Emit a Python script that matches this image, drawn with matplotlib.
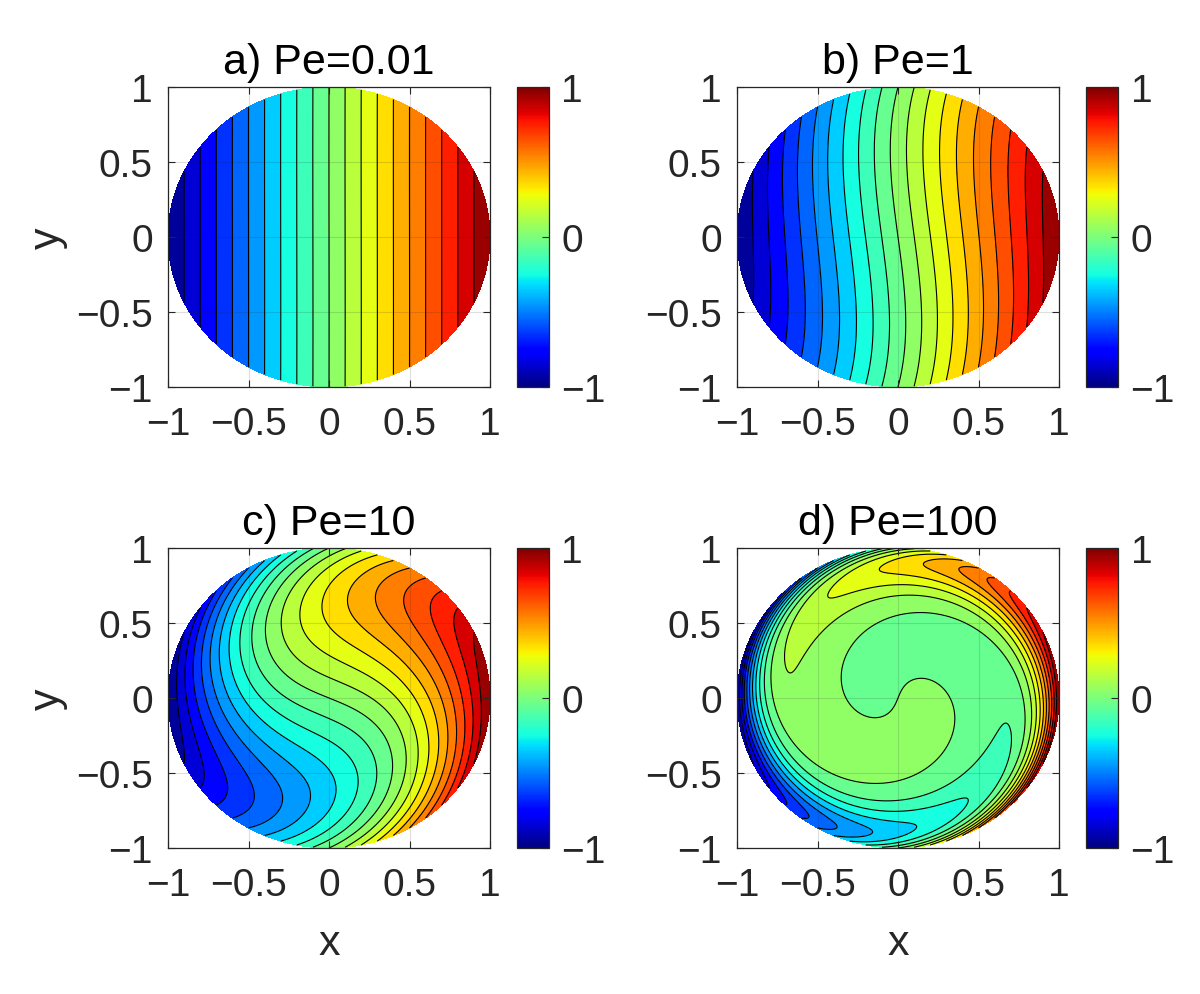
import numpy as np
import matplotlib
matplotlib.use("Agg")
from matplotlib import pyplot as plt
from matplotlib import cm, colors

plt.rcParams['font.family'] = ['Liberation Sans', 'DejaVu Sans']
plt.rcParams['axes.unicode_minus'] = True

# panels
pe_values = [0.01, 1, 10, 100]
titles = ["a) Pe=0.01", "b) Pe=1", "c) Pe=10", "d) Pe=100"]
fill_levels = [-1.0001, -0.9, -0.8, -0.7, -0.6, -0.5, -0.4, -0.3, -0.2, -0.1, 0.0,
               0.1, 0.2, 0.3, 0.4, 0.5, 0.6, 0.7, 0.8, 0.9, 1.0001]
line_levels = [-0.9, -0.8, -0.7, -0.6, -0.5, -0.4, -0.3, -0.2, -0.1, 0.0,
               0.1, 0.2, 0.3, 0.4, 0.5, 0.6, 0.7, 0.8, 0.9]
axis_ticks = [-1, -0.5, 0, 0.5, 1]
axis_ticklabels = ["\u22121", "\u22120.5", "0", "0.5", "1"]
cbar_ticks = [-1, 0, 1]
cbar_ticklabels = ["\u22121", "0", "1"]

# panel placement in pixels (left, top) of the 1200x995 canvas
W, H = 1200, 995
ax_w, ax_h = 322, 300
cb_off, cb_w = 349, 32
corners = [(168, 88), (737, 88), (168, 549), (737, 549)]


def bessel_i1(z, nterms=90):
    # power series of the modified Bessel function I1 for complex argument
    half = z / 2.0
    q = half * half
    term = half.copy()
    total = term.copy()
    for k in range(nterms):
        term = term * q / ((k + 1.0) * (k + 2.0))
        total = total + term
    return total


# steady advection-diffusion in a rotating disk, T = cos(theta) on the wall
r = np.linspace(0, 1, 220)
th = np.linspace(0, 2 * np.pi, 721)
R, TH = np.meshgrid(r, th, indexing="ij")
X = R * np.cos(TH)
Y = R * np.sin(TH)

fig = plt.figure(figsize=(W / 100, H / 100), dpi=100)
norm = colors.Normalize(vmin=-1, vmax=1)
edge = "#262626"

for i in range(4):
    left, top = corners[i]
    ax = fig.add_axes([left / W, (H - top - ax_h) / H, ax_w / W, ax_h / H])
    kk = np.sqrt(1j * pe_values[i])
    f = bessel_i1(kk * r) / bessel_i1(np.array([kk]))[0]
    T = np.real(f[:, None] * np.exp(1j * TH))

    ax.contourf(X, Y, T, levels=fill_levels, cmap="jet", norm=norm)
    ax.contour(X, Y, T, levels=line_levels, colors="k", linewidths=0.8,
               linestyles="solid")

    ax.set_xlim(-1, 1)
    ax.set_ylim(-1, 1)
    ax.set_xticks(axis_ticks)
    ax.set_xticklabels(axis_ticklabels)
    ax.set_yticks(axis_ticks)
    ax.set_yticklabels(axis_ticklabels)
    ax.tick_params(direction="in", top=True, right=True, length=5,
                   width=0.8, color=edge, labelcolor=edge, labelsize=28)
    ax.tick_params(axis="y", pad=11)
    ax.tick_params(axis="x", pad=14)
    for s in ax.spines.values():
        s.set_color(edge)
        s.set_linewidth(0.9)
    ax.set_axisbelow(False)
    ax.grid(True, color=(0.15, 0.15, 0.15), alpha=0.15, linewidth=0.8)
    ax.set_title(titles[i], fontsize=31, pad=10, color="k")
    if i in (0, 2):
        ax.set_ylabel("y", fontsize=31, color=edge, labelpad=6)
    if i in (2, 3):
        ax.set_xlabel("x", fontsize=31, color=edge, labelpad=14)

    cax = fig.add_axes([(left + cb_off) / W, (H - top - ax_h) / H, cb_w / W, ax_h / H])
    cb = fig.colorbar(cm.ScalarMappable(norm=norm, cmap="jet"), cax=cax)
    cb.set_ticks(cbar_ticks)
    cb.set_ticklabels(cbar_ticklabels)
    cb.outline.set_edgecolor(edge)
    cb.outline.set_linewidth(0.9)
    cax.tick_params(direction="in", length=5, width=0.8, color=edge,
                    labelcolor=edge, labelsize=28, pad=9)

fig.savefig("out.png", dpi=100)
